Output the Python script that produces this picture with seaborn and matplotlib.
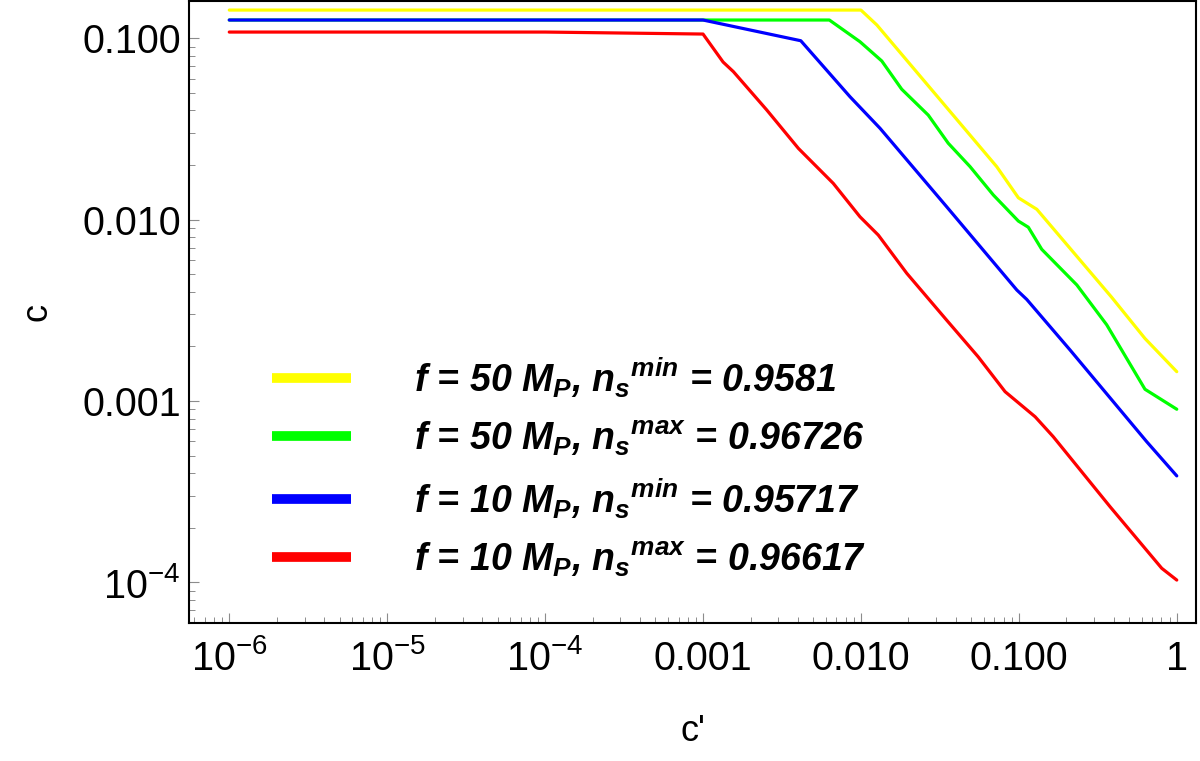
import numpy as np
import pandas as pd
import matplotlib
matplotlib.use('Agg')
import matplotlib.pyplot as plt
import seaborn as sns
from matplotlib.ticker import LogLocator, NullFormatter

# curves (c' on x, c on y)
labels = [r'f = 50 $M_P$, $n_s{}^{min}$ = 0.9581',
          r'f = 50 $M_P$, $n_s{}^{max}$ = 0.96726',
          r'f = 10 $M_P$, $n_s{}^{min}$ = 0.95717',
          r'f = 10 $M_P$, $n_s{}^{max}$ = 0.96617']
colors = ['#FFFF00', '#00FF00', '#0000FF', '#FF0000']

x_yellow = [1e-6, 0.01, 0.01262, 0.0724, 0.0993, 0.130, 0.386, 0.629, 1.0]
y_yellow = [0.1432, 0.1432, 0.1184, 0.0196, 0.0132, 0.0114, 0.00374, 0.00221, 0.00145]

x_green = [1e-6, 0.00631, 0.00986, 0.01355, 0.01812, 0.0267, 0.0357, 0.0491,
           0.0689, 0.0993, 0.1148, 0.1396, 0.233, 0.360, 0.629, 1.0]
y_green = [0.1262, 0.1262, 0.0958, 0.0750, 0.0524, 0.0377, 0.0264, 0.0196,
           0.01368, 0.00982, 0.00908, 0.00686, 0.00436, 0.00263, 0.00116, 0.00090]

x_blue = [1e-6, 0.001, 0.00416, 0.00853, 0.01321, 0.0349, 0.0971, 0.1122, 0.211, 0.645, 1.0]
y_blue = [0.1262, 0.1262, 0.0970, 0.0476, 0.0319, 0.01178, 0.00409, 0.00363, 0.00191, 0.000596, 0.000386]

x_red = [1e-6, 1e-4, 0.001, 0.00134, 0.001557, 0.00253, 0.00402, 0.00668, 0.00986, 0.01288,
         0.0195, 0.0349, 0.0553, 0.0818, 0.1268, 0.1651, 0.378, 0.803, 1.0]
y_red = [0.1083, 0.1083, 0.1056, 0.0740, 0.0655, 0.0403, 0.0247, 0.01585, 0.01037, 0.00822,
         0.00506, 0.00279, 0.00175, 0.001125, 0.000818, 0.000635, 0.000261, 0.0001194, 0.0001028]

xticks = [1e-6, 1e-5, 1e-4, 1e-3, 1e-2, 1e-1, 1]
xticklabels = [r'$10^{-6}$', r'$10^{-5}$', r'$10^{-4}$', '0.001', '0.010', '0.100', '1']
yticks = [1e-4, 1e-3, 1e-2, 1e-1]
yticklabels = [r'$10^{-4}$', '0.001', '0.010', '0.100']

xs = [x_yellow, x_green, x_blue, x_red]
ys = [y_yellow, y_green, y_blue, y_red]
df = pd.concat([pd.DataFrame({'cp': x, 'c': y, 'curve': lab})
                for x, y, lab in zip(xs, ys, labels)], ignore_index=True)

sns.set_style('white')
plt.rcParams['font.family'] = ['Liberation Sans', 'DejaVu Sans']
plt.rcParams['mathtext.fontset'] = 'custom'
plt.rcParams['mathtext.rm'] = 'Liberation Sans'
plt.rcParams['mathtext.it'] = 'Liberation Sans:italic:bold'
plt.rcParams['text.color'] = 'black'
plt.rcParams['axes.labelcolor'] = 'black'
plt.rcParams['xtick.labelcolor'] = 'black'
plt.rcParams['ytick.labelcolor'] = 'black'

fig = plt.figure(figsize=(12, 7.61), dpi=100)
ax = fig.add_axes([0.1575, 0.1813, 0.8392, 0.8174])

sns.lineplot(data=df, x='cp', y='c', hue='curve', hue_order=labels,
             palette=dict(zip(labels, colors)), estimator=None, sort=False,
             lw=2.3, ax=ax)

ax.set_xscale('log')
ax.set_yscale('log')
ax.set_xlim(10 ** -6.255, 10 ** 0.122)
ax.set_ylim(10 ** -4.225, 10 ** -0.794)

ax.set_xticks(xticks, labels=xticklabels)
ax.set_yticks(yticks, labels=yticklabels)
ax.xaxis.set_minor_locator(LogLocator(base=10, subs=np.arange(2, 10), numticks=30))
ax.yaxis.set_minor_locator(LogLocator(base=10, subs=np.arange(2, 10), numticks=30))
ax.xaxis.set_minor_formatter(NullFormatter())
ax.yaxis.set_minor_formatter(NullFormatter())
ax.tick_params(which='both', direction='in', color='0.55', labelsize=28.5,
               left=True, bottom=True, top=False, right=False)
ax.tick_params(which='major', length=7.2, width=0.8)
ax.tick_params(which='minor', length=4.3, width=0.7)
ax.tick_params(axis='y', pad=6)
ax.tick_params(axis='x', pad=34)
plt.setp(ax.get_xticklabels(), va='baseline')

for s in ax.spines.values():
    s.set_color('black')
    s.set_linewidth(1.5)

ax.set_xlabel("c'", fontsize=26, labelpad=26)
ax.set_ylabel('c', fontsize=26, labelpad=20)

handles, labs = ax.get_legend_handles_labels()
leg = ax.legend(handles, labs, loc='upper left', bbox_to_anchor=(0.0824, 0.4308),
                frameon=False, handlelength=2.1, handletextpad=1.7, labelspacing=0.49,
                borderpad=0, borderaxespad=0,
                prop={'size': 27, 'weight': 'bold', 'style': 'italic', 'family': 'Liberation Sans'})
for h in leg.get_lines():
    h.set_linewidth(7)
    h.set_solid_capstyle('butt')

fig.savefig('out.png', dpi=100)
